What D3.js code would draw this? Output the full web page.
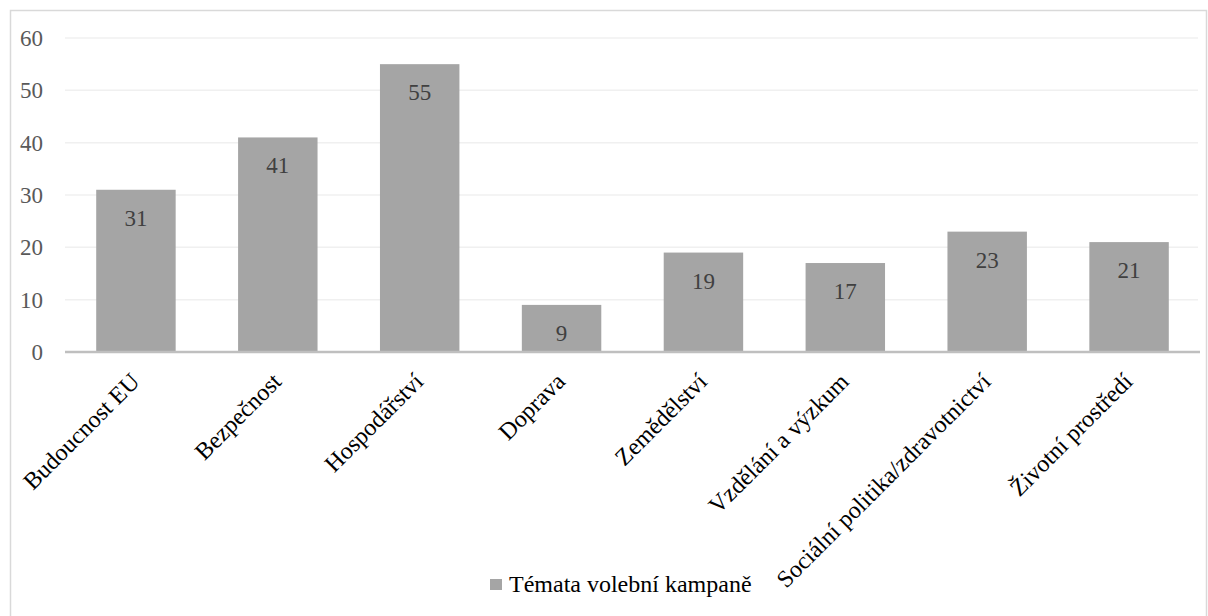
<!DOCTYPE html>
<html>
<head>
<meta charset="utf-8">
<script src="https://cdn.jsdelivr.net/npm/d3@7"></script>
<style>
  html, body { margin: 0; padding: 0; background: #fff; }
  svg { display: block; }
  svg text { font-family: "Liberation Serif", "Times New Roman", serif; }
</style>
</head>
<body>
<svg id="chart" width="1208" height="616"></svg>
<script>
// Témata volební kampaně – počet zmínek podle tématu
const categories = [
  "Budoucnost EU",
  "Bezpečnost",
  "Hospodářství",
  "Doprava",
  "Zemědělství",
  "Vzdělání a výzkum",
  "Sociální politika/zdravotnictví",
  "Životní prostředí"
];
const values = [31, 41, 55, 9, 19, 17, 23, 21];
const yTicks = [0, 10, 20, 30, 40, 50, 60];
const seriesName = "Témata volební kampaně";

const FONT = "Liberation Serif, Times New Roman, serif";
const svg = d3.select("#chart");
const W = 1208, H = 616;
const plot = { left: 65, right: 1200, top: 38, bottom: 352 };
const barColor = "#a5a5a5";

// outer chart frame
svg.append("rect")
  .attr("x", 10.5).attr("y", 10.5)
  .attr("width", W - 12).attr("height", H)
  .attr("fill", "none")
  .attr("stroke", "#d9d9d9")
  .attr("stroke-width", 1.5);

const x = d3.scaleBand()
  .domain(categories)
  .range([plot.left, plot.right])
  .paddingInner(0.44)
  .paddingOuter(0.22);

const y = d3.scaleLinear()
  .domain([0, 60])
  .range([plot.bottom, plot.top]);

// horizontal gridlines
svg.append("g")
  .selectAll("line")
  .data(yTicks.filter(d => d > 0))
  .join("line")
  .attr("x1", plot.left).attr("x2", plot.right - 2)
  .attr("y1", d => y(d)).attr("y2", d => y(d))
  .attr("stroke", "#f0f0f0")
  .attr("stroke-width", 1.5);

// y axis labels
const yAxis = d3.axisLeft(y).tickValues(yTicks).tickSize(0).tickPadding(10);
const gy = svg.append("g")
  .attr("transform", `translate(${plot.left},0)`)
  .call(yAxis);
gy.select(".domain").remove();
gy.selectAll("text")
  .attr("font-family", FONT)
  .attr("font-size", 23)
  .attr("fill", "#595959")
  .attr("text-anchor", "end")
  .attr("x", -22);

// bars
svg.append("g")
  .selectAll("rect")
  .data(values)
  .join("rect")
  .attr("x", (d, i) => x(categories[i]))
  .attr("y", d => y(d))
  .attr("width", x.bandwidth())
  .attr("height", d => y(0) - y(d))
  .attr("fill", barColor);

// value labels inside bars
svg.append("g")
  .selectAll("text")
  .data(values)
  .join("text")
  .attr("x", (d, i) => x(categories[i]) + x.bandwidth() / 2)
  .attr("y", d => y(d) + 36)
  .attr("text-anchor", "middle")
  .attr("font-family", FONT)
  .attr("font-size", 23)
  .attr("fill", "#404040")
  .text(d => d);

// x axis baseline and category labels
const xAxis = d3.axisBottom(x).tickSize(0).tickPadding(0);
const gx = svg.append("g")
  .attr("transform", `translate(0,${plot.bottom})`)
  .call(xAxis);
gx.select(".domain")
  .attr("stroke", "#bfbfbf")
  .attr("stroke-width", 2.5)
  .attr("d", `M${plot.left},0H${plot.right}`);
gx.selectAll(".tick text")
  .attr("font-family", FONT)
  .attr("font-size", 24)
  .attr("fill", "#000")
  .attr("text-anchor", "end")
  .attr("dy", 0)
  .attr("y", 0)
  .attr("transform", "translate(5,31) rotate(-45)");

// legend
const legend = svg.append("g").attr("transform", "translate(490,579)");
legend.append("rect")
  .attr("width", 12).attr("height", 11)
  .attr("fill", barColor);
legend.append("text")
  .attr("x", 19).attr("y", 13)
  .attr("font-family", FONT)
  .attr("font-size", 24)
  .attr("fill", "#000")
  .text(seriesName);
</script>
</body>
</html>
